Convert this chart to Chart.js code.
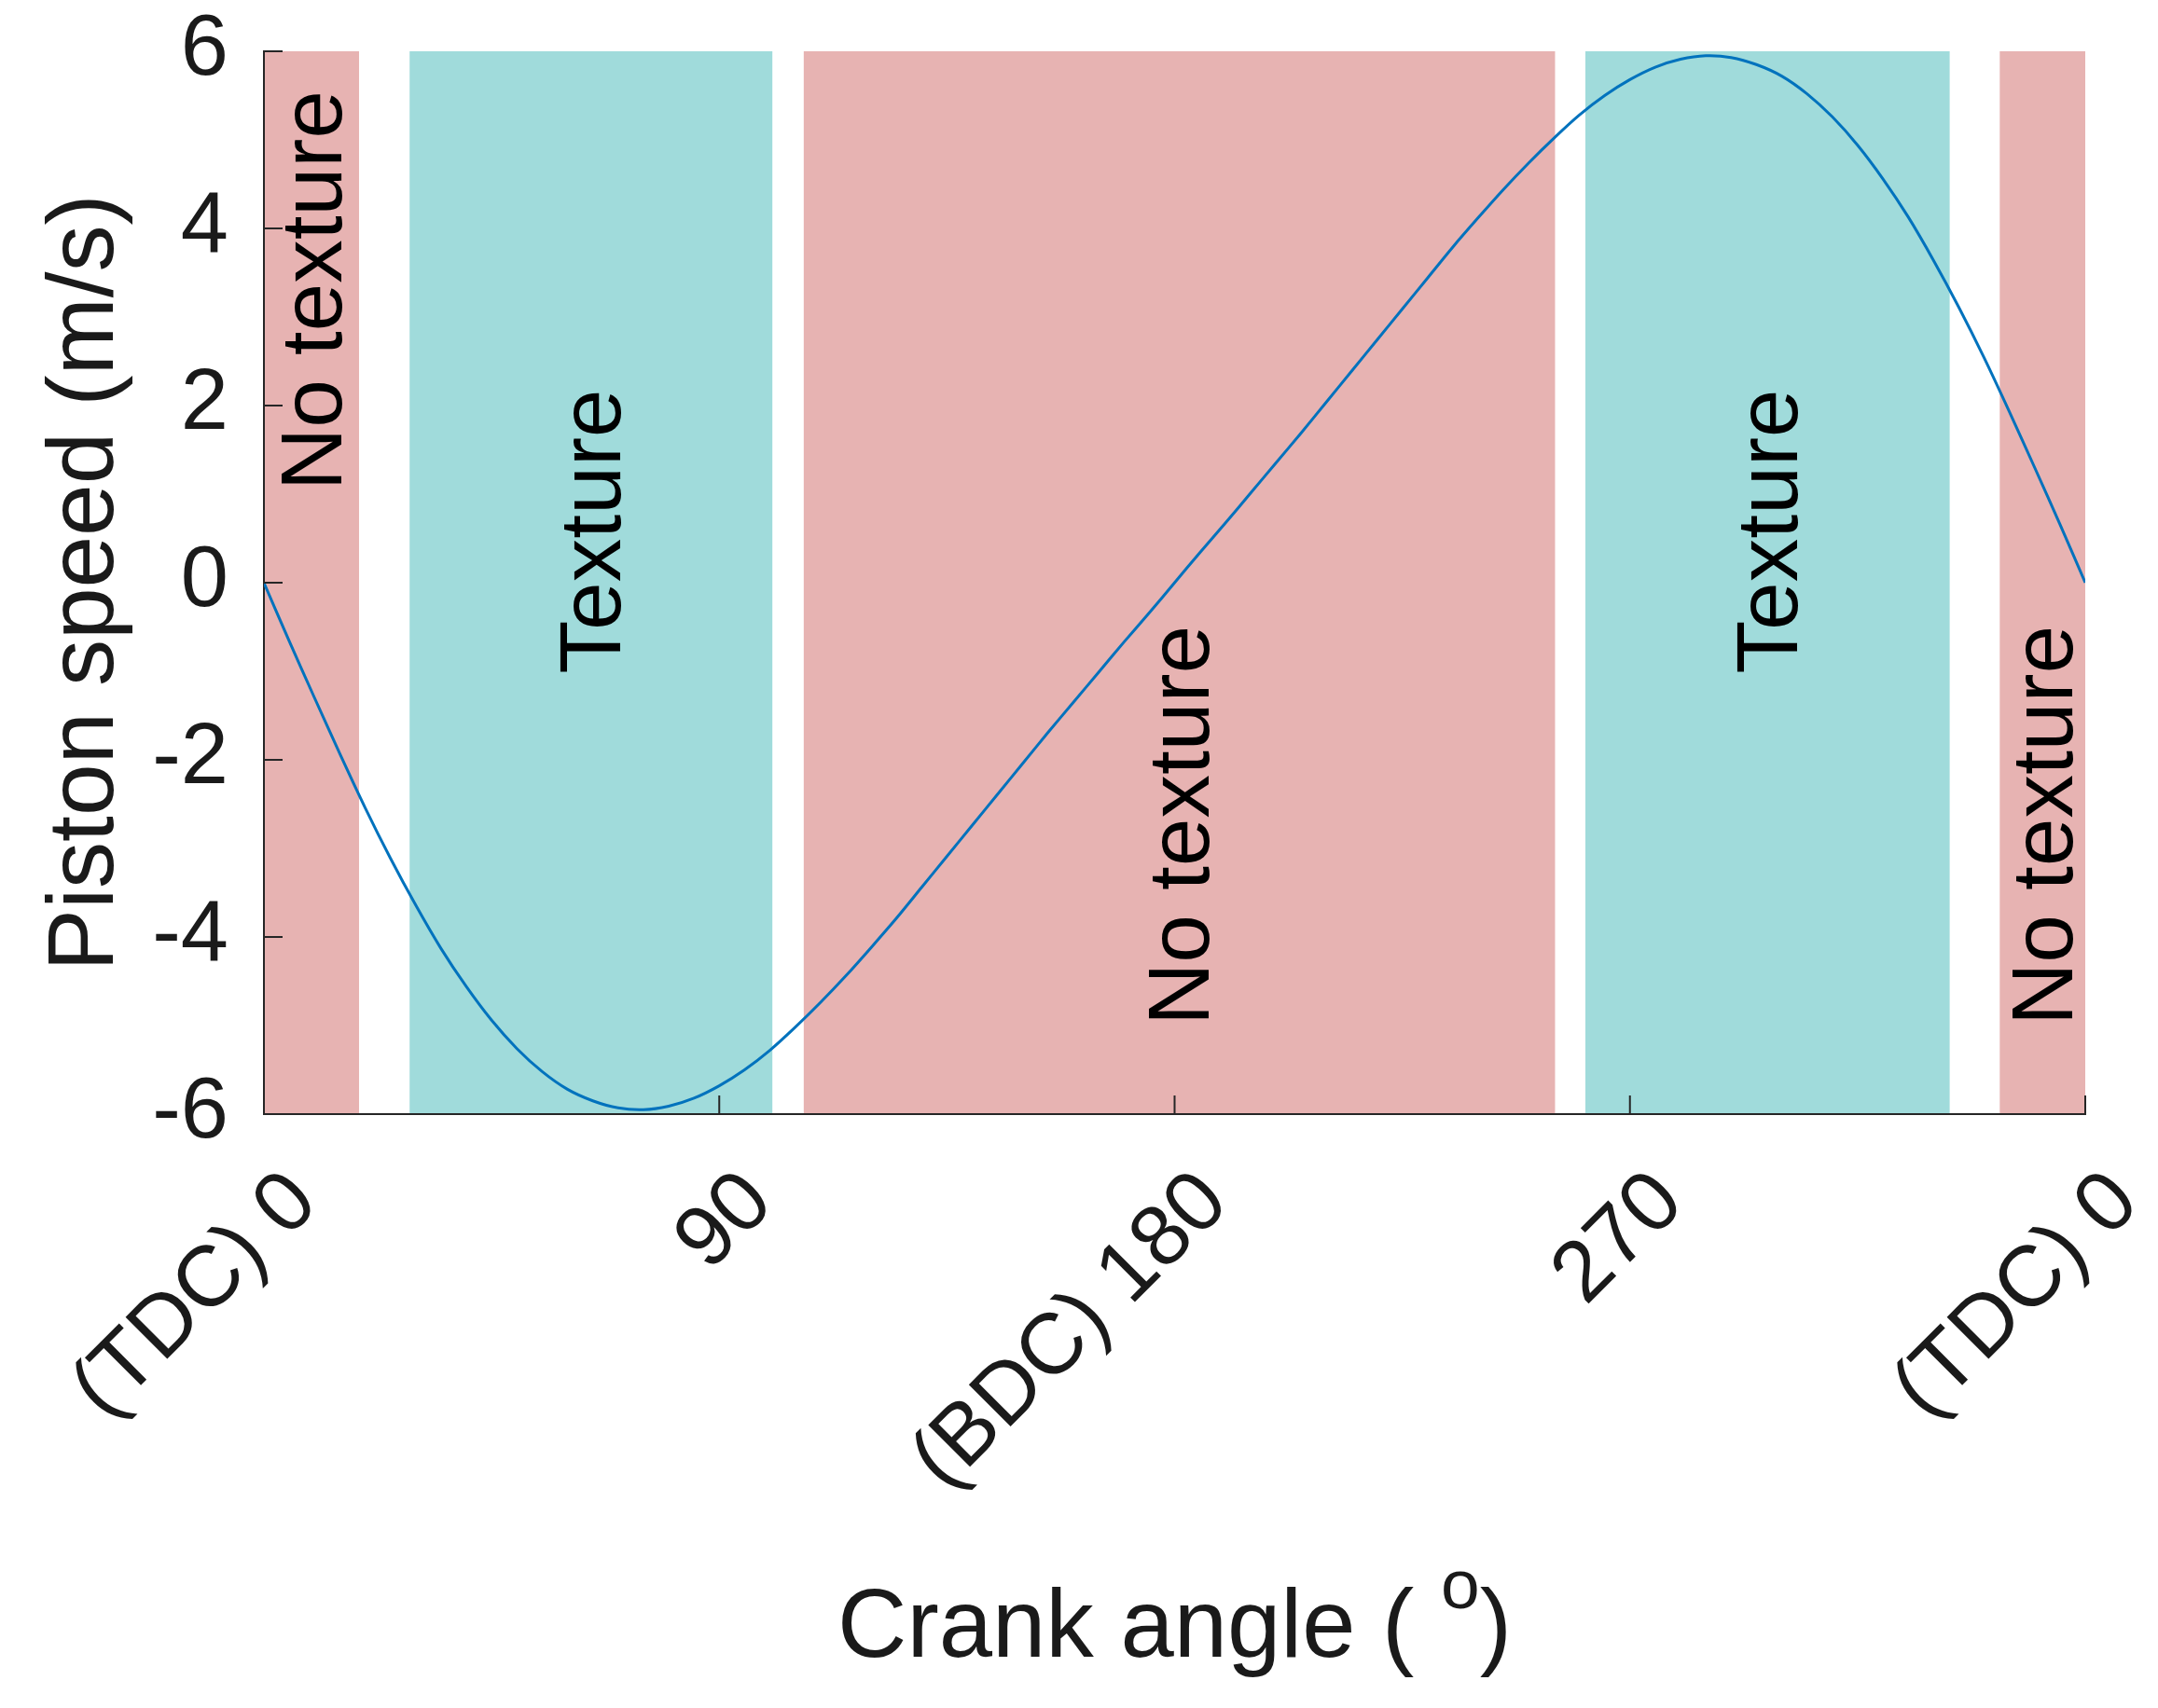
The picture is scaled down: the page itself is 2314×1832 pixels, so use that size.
<!DOCTYPE html>
<html>
<head>
<meta charset="utf-8">
<title>Piston speed vs crank angle</title>
<script src="https://cdn.jsdelivr.net/npm/chart.js@4.4.1/dist/chart.umd.min.js"></script>
<style>
    body { margin: 0; background: #ffffff; }
    #speedChart { display: block; }
</style>
</head>
<body>
<canvas id="speedChart" width="2314" height="1832"></canvas>
<script>
// crank angle (deg) and piston speed (m/s)
const angles = [0, 5, 10, 15, 20, 25, 30, 35, 40, 45, 50, 55, 60, 65, 70, 75, 80, 85, 90,
    95, 100, 105, 110, 115, 120, 125, 130, 135, 140, 145, 150, 155, 160, 165, 170, 175, 180,
    185, 190, 195, 200, 205, 210, 215, 220, 225, 230, 235, 240, 245, 250, 255, 260, 265, 270,
    275, 280, 285, 290, 295, 300, 305, 310, 315, 320, 325, 330, 335, 340, 345, 350, 355, 360];
const speeds = [0, -0.66, -1.30, -1.93, -2.54, -3.11, -3.64, -4.13, -4.56, -4.94, -5.26, -5.52, -5.72, -5.85, -5.93, -5.95, -5.91, -5.82, -5.68,
    -5.50, -5.28, -5.02, -4.74, -4.44, -4.12, -3.79, -3.44, -3.09, -2.74, -2.39, -2.04, -1.69, -1.35, -1.01, -0.67, -0.34, 0,
    0.34, 0.67, 1.01, 1.35, 1.69, 2.04, 2.39, 2.74, 3.09, 3.44, 3.79, 4.12, 4.44, 4.74, 5.02, 5.28, 5.50, 5.68,
    5.82, 5.91, 5.95, 5.93, 5.85, 5.72, 5.52, 5.26, 4.94, 4.56, 4.13, 3.64, 3.11, 2.54, 1.93, 1.30, 0.66, 0];

const xTicks = [0, 90, 180, 270, 360];
const xTickLabels = ['(TDC) 0', '90', '(BDC) 180', '270', '(TDC) 0'];

// shaded regions (crank angle from / to)
const bandStart = [0, 28.8, 106.7, 261.2, 343.1];
const bandEnd = [18.8, 100.5, 255.2, 333.2, 360];
const bandLabels = ['No texture', 'Texture', 'No texture', 'Texture', 'No texture'];
const bandTextured = [false, true, false, true, false];

const FONT = "'Liberation Sans', Arial, Helvetica, sans-serif";
const AXIS_COLOR = '#262626';

const bandsPlugin = {
    id: 'bands',
    beforeDraw(chart, args, opts) {
        let ctx = chart.ctx;
        let x = chart.scales.x;
        let area = chart.chartArea;
        ctx.save();
        for (let i = 0; i < bandStart.length; i++) {
            let x1 = x.getPixelForValue(bandStart[i]);
            let x2 = x.getPixelForValue(bandEnd[i]);
            ctx.fillStyle = bandTextured[i] ? opts.textureColor : opts.plainColor;
            ctx.fillRect(x1, area.top, x2 - x1, area.bottom - area.top);
        }
        ctx.restore();
    },
    afterDatasetsDraw(chart, args, opts) {
        let ctx = chart.ctx;
        let x = chart.scales.x;
        let y = chart.scales.y;
        let area = chart.chartArea;
        ctx.save();
        // inward tick marks like the original figure
        ctx.strokeStyle = AXIS_COLOR;
        ctx.lineWidth = 2;
        ctx.beginPath();
        for (let v = -6; v <= 6; v += 2) {
            let py = y.getPixelForValue(v);
            ctx.moveTo(area.left, py);
            ctx.lineTo(area.left + 20, py);
        }
        for (let i = 0; i < xTicks.length; i++) {
            let px = x.getPixelForValue(xTicks[i]);
            ctx.moveTo(px, area.bottom);
            ctx.lineTo(px, area.bottom - 20);
        }
        ctx.stroke();
        // region labels
        ctx.fillStyle = '#000000';
        ctx.font = opts.labelSize + 'px ' + FONT;
        ctx.textAlign = 'center';
        ctx.textBaseline = 'middle';
        for (let i = 0; i < bandLabels.length; i++) {
            let px = x.getPixelForValue((bandStart[i] + bandEnd[i]) / 2) + 6;
            let py = y.getPixelForValue(opts.labelY[i]);
            ctx.save();
            ctx.translate(px, py);
            ctx.rotate(-Math.PI / 2);
            ctx.fillText(bandLabels[i], 0, 0);
            ctx.restore();
        }
        ctx.restore();
    },
    afterDraw(chart, args, opts) {
        // x axis title with superscript "o"
        let ctx = chart.ctx;
        let area = chart.chartArea;
        let main = 'Crank angle ( ';
        let sup = 'o';
        let close = ')';
        ctx.save();
        ctx.fillStyle = '#1a1a1a';
        ctx.textBaseline = 'alphabetic';
        ctx.textAlign = 'left';
        ctx.font = '103px ' + FONT;
        let w1 = ctx.measureText(main).width;
        let w3 = ctx.measureText(close).width;
        ctx.font = '75px ' + FONT;
        let w2 = ctx.measureText(sup).width;
        let startX = (area.left + area.right) / 2 - (w1 + w2 + w3) / 2;
        let baseY = 1777;
        ctx.font = '103px ' + FONT;
        ctx.fillText(main, startX, baseY);
        ctx.font = '75px ' + FONT;
        ctx.fillText(sup, startX + w1, baseY - 52);
        ctx.font = '103px ' + FONT;
        ctx.fillText(close, startX + w1 + w2, baseY);
        ctx.restore();
    }
};

function buildPoints() {
    let pts = [];
    for (let i = 0; i < angles.length; i++) {
        pts.push({x: angles[i], y: speeds[i]});
    }
    return pts;
}

new Chart(document.getElementById('speedChart'), {
    type: 'line',
    data: {
        datasets: [{
            label: 'Piston speed',
            data: buildPoints(),
            borderColor: '#0072BD',
            borderWidth: 3,
            pointRadius: 0,
            tension: 0.3,
            fill: false
        }]
    },
    options: {
        responsive: false,
        animation: false,
        devicePixelRatio: 1,
        layout: {
            padding: {top: 55, right: 78, left: 0, bottom: 0}
        },
        plugins: {
            legend: {display: false},
            tooltip: {enabled: false},
            bands: {
                plainColor: 'rgb(231, 179, 178)',
                textureColor: 'rgb(160, 219, 219)',
                labelSize: 93,
                labelY: [3.3, 0.58, -2.74, 0.58, -2.74]
            }
        },
        scales: {
            x: {
                type: 'linear',
                min: 0,
                max: 360,
                afterBuildTicks: function(scale) {
                    scale.ticks = xTicks.map(v => ({value: v}));
                },
                afterFit: function(scale) {
                    scale.height = 637;
                    scale.paddingLeft = 0;
                    scale.paddingRight = 0;
                },
                grid: {display: false, drawTicks: false},
                border: {display: true, color: AXIS_COLOR, width: 2},
                ticks: {
                    autoSkip: false,
                    minRotation: 45,
                    maxRotation: 45,
                    padding: 41,
                    labelOffset: 43,
                    color: '#1a1a1a',
                    font: {family: FONT, size: 92},
                    callback: function(value) {
                        return xTickLabels[xTicks.indexOf(value)];
                    }
                }
            },
            y: {
                min: -6,
                max: 6,
                afterFit: function(scale) {
                    scale.width = 283;
                    scale.paddingTop = 0;
                    scale.paddingBottom = 0;
                },
                grid: {display: false, drawTicks: false},
                border: {display: true, color: AXIS_COLOR, width: 2},
                ticks: {
                    stepSize: 2,
                    padding: 38,
                    color: '#1a1a1a',
                    font: {family: FONT, size: 92}
                },
                title: {
                    display: true,
                    text: 'Piston speed (m/s)',
                    color: '#1a1a1a',
                    font: {family: FONT, size: 100},
                    padding: {top: 33, bottom: 0}
                }
            }
        }
    },
    plugins: [bandsPlugin]
});
</script>
</body>
</html>
